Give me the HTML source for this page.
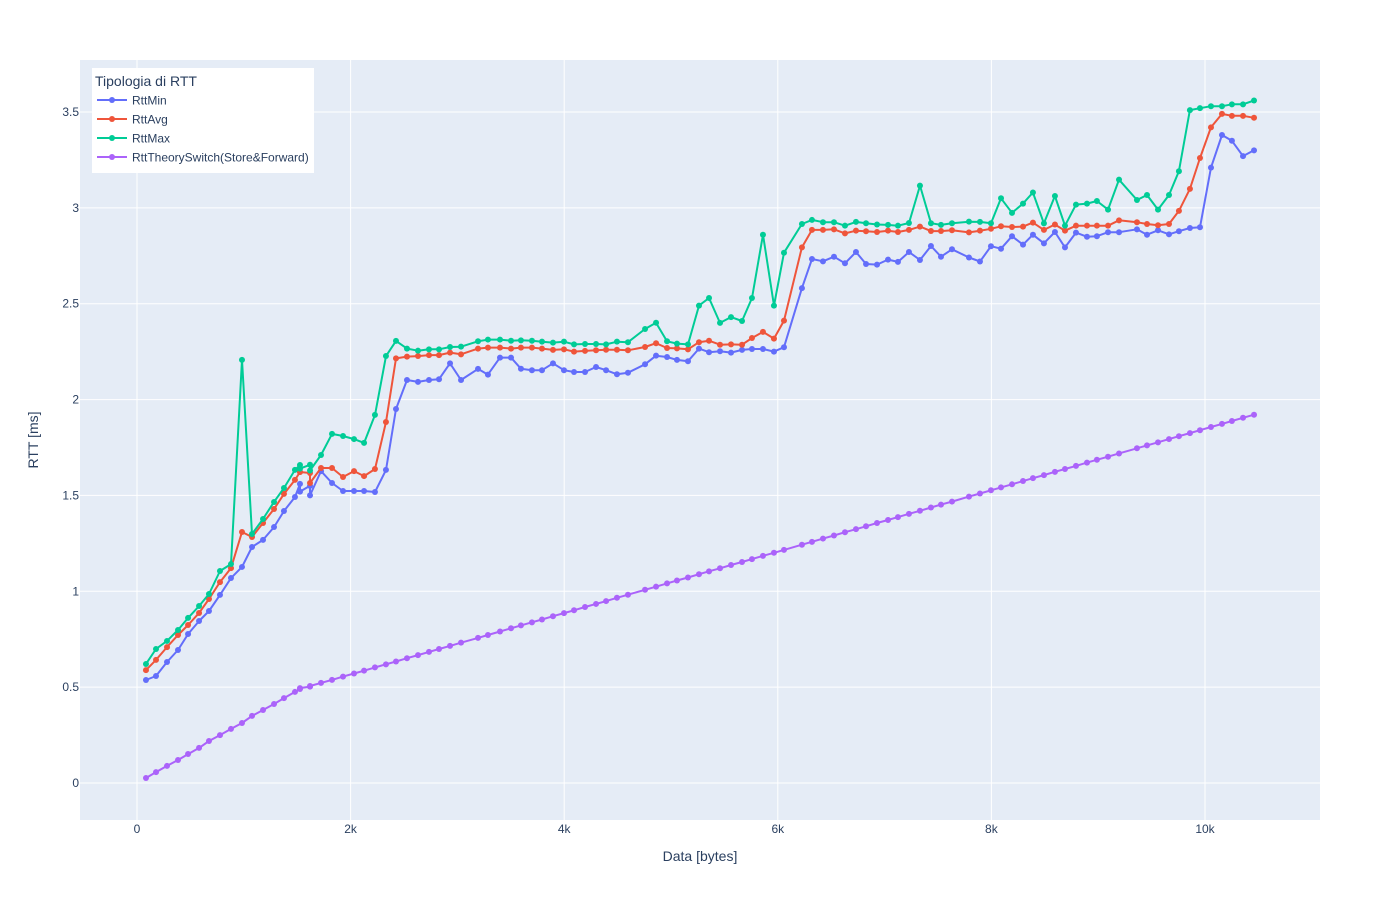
<!DOCTYPE html>
<html><head><meta charset="utf-8">
<style>
html,body{margin:0;padding:0;background:#fff;}
svg{display:block;font-family:"Liberation Sans",Arial,sans-serif;}
</style></head>
<body>
<svg id="chart" width="1400" height="900" xmlns="http://www.w3.org/2000/svg">
<rect x="80" y="60" width="1240" height="760" fill="#e5ecf6"/>
<g id="grid"></g>
<g id="series"></g>
<g id="axes"></g>
<text x="700" y="861" text-anchor="middle" font-size="14" fill="#2a3f5f">Data [bytes]</text>
<text transform="translate(38,440) rotate(-90)" text-anchor="middle" font-size="14" fill="#2a3f5f">RTT [ms]</text>
<g>
<rect x="92" y="68" width="222" height="105" fill="#ffffff"/>
<text x="95" y="86" font-size="14" fill="#2a3f5f">Tipologia di RTT</text>
<g id="legend-items"></g>
</g>
</svg>
<script>
const xBytes = [84,178,281,384,478,581,674,777,880,983,1077,1180,1283,1376,1479,1526,1526,1620,1620,1723,1826,1929,2032,2126,2228,2331,2425,2528,2631,2734,2828,2931,3034,3193,3286,3399,3502,3595,3698,3792,3895,3998,4092,4195,4298,4392,4494,4597,4757,4860,4963,5056,5159,5262,5356,5459,5562,5665,5758,5861,5964,6058,6226,6320,6423,6526,6629,6732,6826,6929,7032,7125,7228,7331,7434,7528,7631,7790,7893,7996,8090,8193,8296,8389,8492,8595,8689,8792,8895,8988,9092,9195,9363,9457,9560,9663,9756,9859,9953,10056,10159,10252,10356,10459];
const rttMin = [0.537,0.558,0.631,0.694,0.777,0.845,0.897,0.981,1.069,1.127,1.231,1.268,1.335,1.419,1.492,1.56,1.52,1.55,1.50,1.627,1.565,1.523,1.523,1.523,1.518,1.633,1.951,2.102,2.092,2.102,2.106,2.189,2.102,2.160,2.130,2.219,2.219,2.161,2.153,2.153,2.189,2.153,2.144,2.144,2.170,2.153,2.132,2.140,2.184,2.229,2.222,2.207,2.200,2.266,2.247,2.252,2.245,2.259,2.264,2.264,2.250,2.273,2.581,2.733,2.721,2.745,2.711,2.770,2.707,2.704,2.730,2.718,2.770,2.728,2.801,2.745,2.784,2.741,2.720,2.800,2.787,2.852,2.808,2.860,2.815,2.874,2.794,2.871,2.849,2.852,2.873,2.873,2.888,2.860,2.883,2.862,2.878,2.895,2.899,3.21,3.38,3.35,3.27,3.30];
const rttAvg = [0.589,0.642,0.709,0.772,0.824,0.887,0.960,1.048,1.121,1.309,1.283,1.356,1.429,1.508,1.581,1.622,1.622,1.617,1.565,1.643,1.643,1.596,1.627,1.601,1.638,1.883,2.215,2.224,2.227,2.232,2.232,2.245,2.236,2.266,2.271,2.271,2.266,2.271,2.271,2.266,2.259,2.262,2.250,2.254,2.257,2.260,2.260,2.257,2.274,2.294,2.269,2.267,2.262,2.299,2.307,2.286,2.288,2.286,2.321,2.353,2.318,2.412,2.794,2.885,2.885,2.888,2.867,2.881,2.878,2.874,2.881,2.874,2.885,2.902,2.879,2.879,2.883,2.872,2.881,2.891,2.904,2.900,2.902,2.923,2.885,2.913,2.881,2.907,2.907,2.907,2.907,2.935,2.925,2.916,2.909,2.916,2.984,3.099,3.26,3.42,3.49,3.48,3.48,3.47];
const rttMax = [0.621,0.699,0.741,0.798,0.861,0.923,0.986,1.106,1.142,2.207,1.299,1.377,1.466,1.539,1.633,1.659,1.64,1.66,1.63,1.711,1.821,1.810,1.794,1.774,1.920,2.227,2.306,2.266,2.255,2.262,2.262,2.274,2.276,2.304,2.313,2.313,2.307,2.309,2.307,2.302,2.297,2.302,2.288,2.290,2.290,2.288,2.302,2.299,2.368,2.401,2.304,2.292,2.288,2.49,2.53,2.40,2.43,2.41,2.53,2.86,2.49,2.766,2.916,2.937,2.925,2.925,2.907,2.927,2.920,2.913,2.911,2.907,2.921,3.116,2.920,2.911,2.920,2.928,2.927,2.920,3.050,2.974,3.022,3.080,2.919,3.062,2.907,3.017,3.022,3.036,2.991,3.147,3.041,3.067,2.991,3.067,3.191,3.51,3.52,3.53,3.53,3.54,3.54,3.56];
const rttTheory = [0.026,0.057,0.089,0.12,0.151,0.183,0.219,0.25,0.282,0.313,0.35,0.381,0.412,0.443,0.475,0.49,0.495,0.503,0.506,0.522,0.538,0.555,0.571,0.586,0.603,0.619,0.634,0.651,0.667,0.684,0.699,0.715,0.732,0.757,0.772,0.790,0.807,0.822,0.838,0.853,0.870,0.886,0.901,0.918,0.934,0.949,0.966,0.982,1.008,1.024,1.041,1.056,1.072,1.089,1.104,1.120,1.137,1.153,1.168,1.185,1.201,1.216,1.243,1.258,1.275,1.291,1.308,1.324,1.339,1.356,1.372,1.387,1.404,1.420,1.437,1.452,1.468,1.494,1.510,1.527,1.542,1.558,1.575,1.590,1.606,1.623,1.638,1.654,1.671,1.686,1.702,1.719,1.746,1.761,1.777,1.794,1.809,1.825,1.840,1.857,1.873,1.888,1.905,1.921];
const seriesNames = ["RttMin","RttAvg","RttMax","RttTheorySwitch(Store&Forward)"];
const xTickValues = [0,2000,4000,6000,8000,10000];
const xTickLabels = ["0","2k","4k","6k","8k","10k"];
const yTickValues = [0,0.5,1,1.5,2,2.5,3,3.5];
const yTickLabels = ["0","0.5","1","1.5","2","2.5","3","3.5"];

const NS="http://www.w3.org/2000/svg";
function xScale(v){return 137 + v*(1205-137)/10000;}
function yScale(v){return 783 - v*(783-112)/3.5;}
function mk(tag,attrs,parent){const e=document.createElementNS(NS,tag);for(const k in attrs)e.setAttribute(k,attrs[k]);parent.appendChild(e);return e;}

const grid=document.getElementById('grid'), axes=document.getElementById('axes'), layer=document.getElementById('series');
xTickValues.forEach((v,i)=>{
  const x=xScale(v);
  const l=mk('line',{x1:x,x2:x,y1:60,y2:820,stroke:'#ffffff','stroke-width':1},grid);
  
  
  const t=mk('text',{x:x,y:833,'text-anchor':'middle','font-size':12,fill:'#2a3f5f'},axes);
  t.textContent=xTickLabels[i];
  
  
});
yTickValues.forEach((v,i)=>{
  const y=yScale(v);
  const l=mk('line',{x1:80,x2:1320,y1:y,y2:y,stroke:'#ffffff','stroke-width':1},grid);
  
  
  const t=mk('text',{x:79-0,y:y+4,'text-anchor':'end','font-size':12,fill:'#2a3f5f'},axes);
  t.textContent=yTickLabels[i];
  
  
});

const allSeries=[rttMin,rttAvg,rttMax,rttTheory];
const colors=['#636efa','#EF553B','#00cc96','#ab63fa'];
const keys=['rtt-min','rtt-avg','rtt-max','rtt-theory'];
allSeries.forEach((vals,si)=>{
  const g=mk('g',{},layer);
  
  
  const pts=vals.map((v,i)=>xScale(xBytes[i]).toFixed(1)+','+yScale(v).toFixed(1)).join(' ');
  const pl=mk('polyline',{points:pts,fill:'none',stroke:colors[si],'stroke-width':2,'stroke-linejoin':'round'},g);
  
  
  vals.forEach((v,i)=>{
    const c=mk('circle',{cx:xScale(xBytes[i]),cy:yScale(v),r:3,fill:colors[si]},g);
    
    
  });
});

const li=document.getElementById('legend-items');
seriesNames.forEach((n,i)=>{
  const y=101+i*19;
  const g=mk('g',{},li);
  
  
  mk('line',{x1:97,x2:127,y1:y-1,y2:y-1,stroke:colors[i],'stroke-width':2},g);
  mk('circle',{cx:112,cy:y-1,r:3,fill:colors[i]},g);
  const t=mk('text',{x:132,y:y+3.5,'font-size':12,fill:'#2a3f5f'},g);
  t.textContent=n;
});
</script>
</body></html>
